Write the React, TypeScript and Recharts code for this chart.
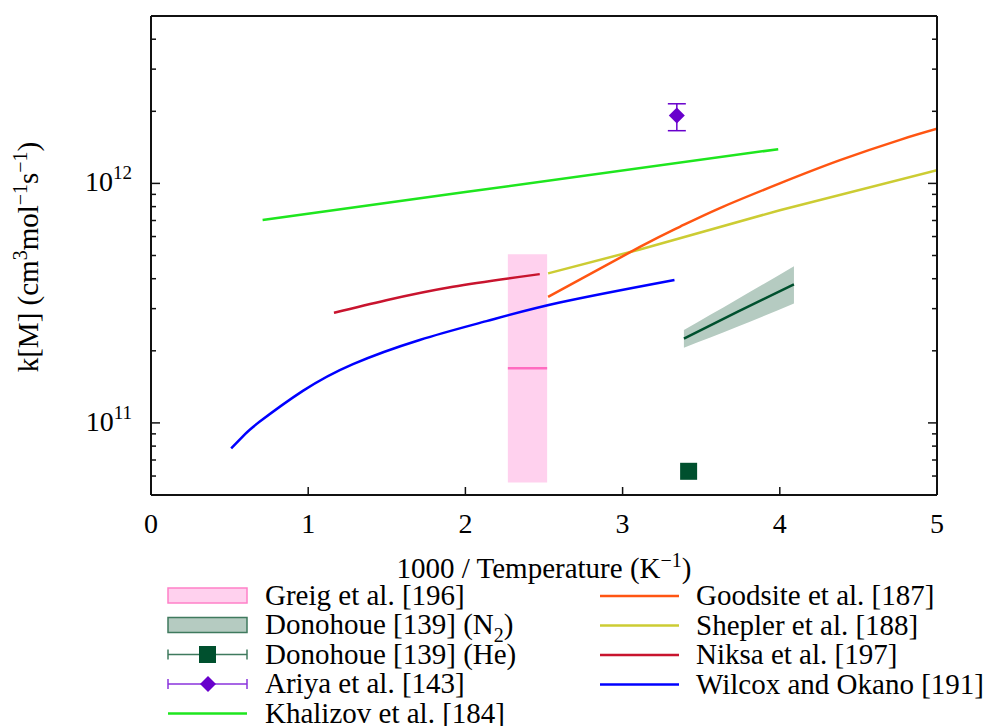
import { ComposedChart, Line, Area, Scatter, XAxis, YAxis, ErrorBar } from 'recharts'

// page and plot box
const W = 987
const H = 726
const PL = 151
const PR = 937
const PT = 16
const PB = 495
const FONT = "'Liberation Serif', 'Times New Roman', serif"

const xTicks = [0, 1, 2, 3, 4, 5]
const yTicks = [
  6e10, 7e10, 8e10, 9e10,
  1e11, 2e11, 3e11, 4e11, 5e11, 6e11, 7e11, 8e11, 9e11,
  1e12, 2e12, 3e12, 4e12,
]

// Greig et al. [196] – range box and centre value
const greigX = [2.27, 2.52]
const greigLow = [5.64e10, 5.64e10]
const greigHigh = [5.06e11, 5.06e11]
const greigMid = [1.69e11, 1.69e11]

// Donohoue [139] (N2) – fit with uncertainty band
const n2X = [3.39, 3.73, 4.09]
const n2Mid = [2.25e11, 2.91e11, 3.79e11]
const n2Low = [2.06e11, 2.52e11, 3.15e11]
const n2High = [2.44e11, 3.28e11, 4.51e11]

// Donohoue [139] (He)
const heX = [3.42]
const heY = [6.28e10]

// Ariya et al. [143]
const ariyaX = [3.345]
const ariyaY = [1.92e12]
const ariyaLow = [1.66e12]
const ariyaHigh = [2.15e12]

const khalizovX = [0.71, 2.0, 3.99]
const khalizovY = [7.03e11, 9.2e11, 1.39e12]

const goodsiteX = [2.526, 3.11, 3.364, 3.619, 4.0, 4.383, 4.765, 5.0]
const goodsiteY = [3.36e11, 5.43e11, 6.59e11, 7.89e11, 1.0e12, 1.25e12, 1.52e12, 1.69e12]

const sheplerX = [2.526, 3.11, 4.0, 5.0]
const sheplerY = [4.21e11, 5.3e11, 7.73e11, 1.134e12]

const niksaX = [1.164, 1.497, 1.921, 2.473]
const niksaY = [2.88e11, 3.25e11, 3.7e11, 4.18e11]

const wilcoxX = [0.51, 0.6, 0.69, 0.966, 1.285, 1.709, 2.134, 2.6, 3.33]
const wilcoxY = [7.82e10, 9.0e10, 1.01e11, 1.36e11, 1.76e11, 2.22e11, 2.66e11, 3.18e11, 3.95e11]

const colors = {
  greigFill: '#ffd1ee',
  greigLine: '#ff6cc0',
  n2Fill: '#b5cbc1',
  donohoue: '#00502e',
  ariya: '#6800cc',
  khalizov: '#1ee61e',
  goodsite: '#ff5512',
  shepler: '#cccc33',
  niksa: '#c8142e',
  wilcox: '#0000ff',
}

const pts = (xs: number[], ys: number[]) => xs.map((x, i) => ({ x, y: ys[i] }))

const greigBand = greigX.map((x, i) => ({ x, range: [greigLow[i], greigHigh[i]] }))
const n2Band = n2X.map((x, i) => ({ x, range: [n2Low[i], n2High[i]] }))
const ariyaData = ariyaX.map((x, i) => ({
  x,
  y: ariyaY[i],
  err: [ariyaY[i] - ariyaLow[i], ariyaHigh[i] - ariyaY[i]],
}))

const isMajor = (v: number) => Math.abs(Math.log10(v) - Math.round(Math.log10(v))) < 1e-6

function LeftTick(props: any) {
  const { y, payload } = props
  const v = payload.value
  const major = isMajor(v)
  return (
    <g>
      <line x1={PL} x2={PL + (major ? 9 : 5)} y1={y} y2={y} stroke="#111" strokeWidth={1.5} />
      {major && (
        <text x={132} y={y + 8} textAnchor="end" fontSize={28} fill="#000" fontFamily={FONT}>
          10<tspan dy={-12} fontSize={19}>{Math.round(Math.log10(v))}</tspan>
        </text>
      )}
    </g>
  )
}

function RightTick(props: any) {
  const { y, payload } = props
  const major = isMajor(payload.value)
  return <line x1={PR} x2={PR - (major ? 9 : 5)} y1={y} y2={y} stroke="#111" strokeWidth={1.5} />
}

function BottomTick(props: any) {
  const { x, payload } = props
  return (
    <g>
      <line x1={x} x2={x} y1={PB} y2={PB - 8} stroke="#111" strokeWidth={1.5} />
      <text x={x} y={PB + 38} textAnchor="middle" fontSize={28} fill="#000" fontFamily={FONT}>
        {payload.value}
      </text>
    </g>
  )
}

function TopTick(props: any) {
  const { x } = props
  return <line x1={x} x2={x} y1={PT} y2={PT + 8} stroke="#111" strokeWidth={1.5} />
}

const square = (p: any) => (
  <rect x={p.cx - 8.5} y={p.cy - 8.5} width={17} height={17} fill={colors.donohoue} />
)
const diamond = (p: any) => (
  <polygon
    points={`${p.cx},${p.cy - 8} ${p.cx + 8},${p.cy} ${p.cx},${p.cy + 8} ${p.cx - 8},${p.cy}`}
    fill={colors.ariya}
  />
)

type LegendItem = { label: string; sub?: string; tail?: string; kind: string; color: string; edge?: string }

const legendLeft: LegendItem[] = [
  { label: 'Greig et al. [196]', kind: 'box', color: colors.greigFill, edge: '#ff80c8' },
  { label: 'Donohoue [139] (N', sub: '2', tail: ')', kind: 'box', color: colors.n2Fill, edge: '#3f7a5e' },
  { label: 'Donohoue [139] (He)', kind: 'square', color: colors.donohoue, edge: '#3f7a5e' },
  { label: 'Ariya et al. [143]', kind: 'diamond', color: colors.ariya, edge: '#8a33dd' },
  { label: 'Khalizov et al. [184]', kind: 'line', color: colors.khalizov },
]
const legendRight: LegendItem[] = [
  { label: 'Goodsite et al. [187]', kind: 'line', color: colors.goodsite },
  { label: 'Shepler et al. [188]', kind: 'line', color: colors.shepler },
  { label: 'Niksa et al. [197]', kind: 'line', color: colors.niksa },
  { label: 'Wilcox and Okano [191]', kind: 'line', color: colors.wilcox },
]

function LegendRow({ item, x0, tx, cy }: { item: LegendItem; x0: number; tx: number; cy: number }) {
  const x1 = x0 + 79
  const mid = (x0 + x1) / 2
  let swatch = null
  if (item.kind === 'box') {
    swatch = <rect x={x0} y={cy - 7.5} width={79} height={15} fill={item.color} stroke={item.edge} strokeWidth={1.5} />
  } else if (item.kind === 'line') {
    swatch = <line x1={x0} x2={x1} y1={cy} y2={cy} stroke={item.color} strokeWidth={2.5} />
  } else {
    swatch = (
      <g>
        <line x1={x0} x2={x1} y1={cy} y2={cy} stroke={item.edge} strokeWidth={1.5} />
        <line x1={x0} x2={x0} y1={cy - 5} y2={cy + 5} stroke={item.edge} strokeWidth={1.5} />
        <line x1={x1} x2={x1} y1={cy - 5} y2={cy + 5} stroke={item.edge} strokeWidth={1.5} />
        {item.kind === 'square'
          ? square({ cx: mid, cy })
          : diamond({ cx: x0 + 40, cy })}
      </g>
    )
  }
  return (
    <g>
      {swatch}
      <text x={tx} y={cy + 9} fontSize={29} fill="#000" fontFamily={FONT}>
        {item.label}
        {item.sub && <tspan dy={8} fontSize={20}>{item.sub}</tspan>}
        {item.tail && <tspan dy={-8}>{item.tail}</tspan>}
      </text>
    </g>
  )
}

export default function App() {
  return (
    <div style={{ position: 'absolute', left: 0, top: 0, width: W, height: H, background: '#fff', fontFamily: FONT }}>
      <ComposedChart width={W} height={H} margin={{ top: PT - 1, right: W - PR - 1, bottom: H - PB - 40, left: 0 }}>
        <XAxis
          dataKey="x"
          type="number"
          domain={[0, 5]}
          ticks={xTicks}
          interval={0}
          allowDataOverflow
          height={40}
          tickLine={false}
          tickSize={0}
          axisLine={{ stroke: '#111', strokeWidth: 2 }}
          tick={(p: any) => <BottomTick {...p} />}
        />
        <XAxis
          xAxisId="top"
          orientation="top"
          type="number"
          domain={[0, 5]}
          ticks={xTicks}
          interval={0}
          allowDataOverflow
          height={1}
          tickLine={false}
          tickSize={0}
          axisLine={{ stroke: '#111', strokeWidth: 2 }}
          tick={(p: any) => <TopTick {...p} />}
        />
        <YAxis
          dataKey="y"
          type="number"
          scale="log"
          domain={[5e10, 5e12]}
          ticks={yTicks}
          interval={0}
          allowDataOverflow
          width={PL}
          tickLine={false}
          tickSize={0}
          axisLine={{ stroke: '#111', strokeWidth: 2 }}
          tick={(p: any) => <LeftTick {...p} />}
        />
        <YAxis
          yAxisId="right"
          orientation="right"
          type="number"
          scale="log"
          domain={[5e10, 5e12]}
          ticks={yTicks}
          interval={0}
          allowDataOverflow
          width={1}
          tickLine={false}
          tickSize={0}
          axisLine={{ stroke: '#111', strokeWidth: 2 }}
          tick={(p: any) => <RightTick {...p} />}
        />

        {/* Greig box */}
        <Area data={greigBand} dataKey="range" type="linear" stroke="none" fill={colors.greigFill} fillOpacity={1} isAnimationActive={false} />
        <Line data={pts(greigX, greigMid)} dataKey="y" stroke={colors.greigLine} strokeWidth={2.5} dot={false} isAnimationActive={false} />

        {/* Donohoue N2 band + fit */}
        <Area data={n2Band} dataKey="range" type="natural" stroke="none" fill={colors.n2Fill} fillOpacity={1} isAnimationActive={false} />
        <Line data={pts(n2X, n2Mid)} dataKey="y" type="natural" stroke={colors.donohoue} strokeWidth={2.5} dot={false} isAnimationActive={false} />

        <Line data={pts(khalizovX, khalizovY)} dataKey="y" type="linear" stroke={colors.khalizov} strokeWidth={2.5} dot={false} isAnimationActive={false} />
        <Line data={pts(sheplerX, sheplerY)} dataKey="y" type="linear" stroke={colors.shepler} strokeWidth={2.5} dot={false} isAnimationActive={false} />
        <Line data={pts(goodsiteX, goodsiteY)} dataKey="y" type="natural" stroke={colors.goodsite} strokeWidth={2.5} dot={false} isAnimationActive={false} />
        <Line data={pts(niksaX, niksaY)} dataKey="y" type="natural" stroke={colors.niksa} strokeWidth={2.5} dot={false} isAnimationActive={false} />
        <Line data={pts(wilcoxX, wilcoxY)} dataKey="y" type="natural" stroke={colors.wilcox} strokeWidth={2.5} dot={false} isAnimationActive={false} />

        <Scatter data={pts(heX, heY)} dataKey="y" shape={square} isAnimationActive={false} />
        <Scatter data={ariyaData} dataKey="y" shape={diamond} isAnimationActive={false}>
          <ErrorBar dataKey="err" direction="y" width={9} stroke={colors.ariya} strokeWidth={1.5} />
        </Scatter>
      </ComposedChart>

      {/* axis titles and legend */}
      <svg width={W} height={H} style={{ position: 'absolute', left: 0, top: 0, pointerEvents: 'none' }}>
        <text x={(PL + PR) / 2} y={578} textAnchor="middle" fontSize={29} fill="#000" fontFamily={FONT}>
          1000 / Temperature (K<tspan dy={-11} fontSize={20}>−1</tspan><tspan dy={11}>)</tspan>
        </text>
        <text
          transform="translate(38, 257) rotate(-90)"
          textAnchor="middle"
          fontSize={29}
          fill="#000"
          fontFamily={FONT}
        >
          k[M] (cm<tspan dy={-11} fontSize={20}>3</tspan>
          <tspan dy={11}>mol</tspan>
          <tspan dy={-11} fontSize={20}>−1</tspan>
          <tspan dy={11}>s</tspan>
          <tspan dy={-11} fontSize={20}>−1</tspan>
          <tspan dy={11}>)</tspan>
        </text>
        {legendLeft.map((item, i) => (
          <LegendRow key={item.label} item={item} x0={168} tx={265} cy={595.5 + i * 29.5} />
        ))}
        {legendRight.map((item, i) => (
          <LegendRow key={item.label} item={item} x0={600} tx={696} cy={596 + i * 29.5} />
        ))}
      </svg>
    </div>
  )
}
